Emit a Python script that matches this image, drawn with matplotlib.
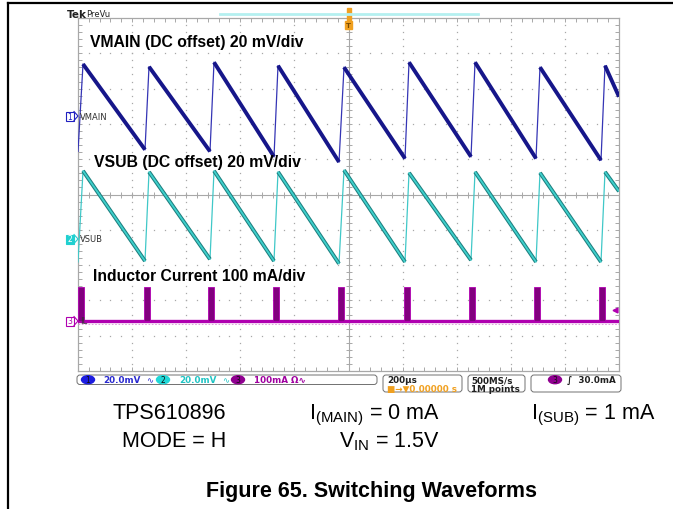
import numpy as np
import matplotlib
matplotlib.use("Agg")
import matplotlib.pyplot as plt
from matplotlib.patches import FancyBboxPatch, Ellipse, Rectangle

plt.rcParams["mathtext.fontset"] = "custom"
plt.rcParams["mathtext.rm"] = "Liberation Sans"
plt.rcParams["mathtext.it"] = "Liberation Sans:italic"

# --- data (time in us, 200 us/div) ---
peak_t = [18.5, 262.5, 502.8, 739.4, 983.4, 1223.7, 1467.7, 1707.9, 1948.2]
trough_t = [0.0, 247.7, 488.0, 724.6, 964.9, 1208.9, 1452.9, 1693.2, 1933.5]
end_t = 2000.0

# VMAIN, mV around channel 1 marker (20 mV/div)
vmain_peak = [29.5, 28.0, 30.5, 28.6, 27.7, 30.5, 30.5, 27.7, 28.6]
vmain_trough = [-20, -19, -20, -23, -26, -24, -23, -24, -25]
vmain_end = 11

# VSUB, mV around channel 2 marker (20 mV/div)
vsub_peak = [38.6, 38.0, 38.6, 38.0, 39.0, 37.5, 38.0, 37.5, 38.0]
vsub_trough = [-13, -12.5, -11.5, -12.5, -14, -13, -12, -13, -13]
vsub_end = 27

# inductor current, mA (100 mA/div)
il_spike_t = [0, 244, 481, 721, 961, 1205, 1445, 1686, 1926]
il_spike_w = 22
il_spike_top = 96
il_base = 0

# channel ground markers, in divisions from the bottom of the screen
ch_pos = {"VMAIN": 7.22, "VSUB": 3.74, "IL": 1.42}
ch_scale = {"VMAIN": 20.0, "VSUB": 20.0, "IL": 100.0}

fig = plt.figure(figsize=(6.73, 5.10), dpi=100)
fig.patch.set_facecolor("white")

# scope screen
ax = fig.add_axes([78 / 673, 1 - 372 / 510, 541 / 673, 353 / 510])
ax.set_xlim(0, 2000)
ax.set_ylim(0, 10)
grid_c = "#a8a8a8"
for s in ax.spines.values():
    s.set_color(grid_c)
    s.set_linewidth(0.9)
ax.set_xticks(np.arange(0, 2001, 40))
ax.set_yticks(np.arange(0, 10.01, 0.2))
ax.set_xticklabels([])
ax.set_yticklabels([])
ax.tick_params(direction="in", length=3, width=0.7, color=grid_c,
               top=True, right=True)

# dotted graticule
for k in range(1, 10):
    ys = np.arange(0.2, 10, 0.2)
    ax.plot(np.full(len(ys), k * 200), ys, ls="", marker="s", ms=0.9,
            color=grid_c, mew=0)
    xs = np.arange(40, 2000, 40)
    ax.plot(xs, np.full(len(xs), k), ls="", marker="s", ms=0.9,
            color=grid_c, mew=0)
# centre cross
ax.axvline(1000, color=grid_c, lw=0.8)
ax.axhline(5, color=grid_c, lw=0.8)
xs = np.arange(40, 2000, 40)
ax.plot(xs, np.full(len(xs), 5), ls="", marker="|", ms=5, mew=0.7, color=grid_c)
ys = np.arange(0.2, 10, 0.2)
ax.plot(np.full(len(ys), 1000), ys, ls="", marker="_", ms=5, mew=0.7, color=grid_c)


def draw_saw(name, peaks, troughs, end_v, c_thick, c_thin, inner=None):
    pos, sc = ch_pos[name], ch_scale[name]
    # rising edges: thin
    for i in range(len(peak_t)):
        ax.plot([trough_t[i], peak_t[i]],
                [pos + troughs[i] / sc, pos + peaks[i] / sc],
                color=c_thin, lw=0.9, zorder=4)
    # falling ramps: thick
    for i in range(len(peak_t)):
        if i + 1 < len(peak_t):
            t1, v1 = trough_t[i + 1], troughs[i + 1]
        else:
            t1, v1 = end_t, end_v
        ax.plot([peak_t[i], t1], [pos + peaks[i] / sc, pos + v1 / sc],
                color=c_thick, lw=2.8, solid_capstyle="butt", zorder=5)
        if inner:
            ax.plot([peak_t[i], t1], [pos + peaks[i] / sc, pos + v1 / sc],
                    color=inner, lw=1.3, solid_capstyle="butt", zorder=6)


draw_saw("VMAIN", vmain_peak, vmain_trough, vmain_end, "#16168a", "#3535b5")
draw_saw("VSUB", vsub_peak, vsub_trough, vsub_end, "#1d7f7f", "#40c8c8",
         inner="#3fd0cc")

# inductor current
pos, sc = ch_pos["IL"], ch_scale["IL"]
ax.plot([0, 2000], [pos + il_base / sc - 0.09] * 2, color="#d890d8", lw=0.6,
        ls=(0, (2, 2)), zorder=4)
ax.plot([0, 2000], [pos + il_base / sc] * 2, color="#b000b0", lw=2.4, zorder=5)
ax.bar(il_spike_t, [(il_spike_top - il_base) / sc] * len(il_spike_t),
       width=il_spike_w, bottom=pos + il_base / sc, align="edge",
       color="#82007f", edgecolor="#b000b0", lw=0.6, zorder=6)

# overlay in pixel coordinates for all the surrounding stuff
ov = fig.add_axes([0, 0, 1, 1], zorder=3)
ov.set_xlim(0, 673)
ov.set_ylim(510, 0)
ov.axis("off")
ov.patch.set_alpha(0)

# page frame
ov.plot([8, 673], [4, 4], color="black", lw=1.6)
ov.plot([8, 8], [4, 510], color="black", lw=1.6)

# header
ov.text(67, 15, "Tek", fontsize=7.5, fontweight="bold", family="DejaVu Sans",
        va="center", color="#202020")
ov.text(86, 14.5, "PreVu", fontsize=6, family="DejaVu Sans", va="center",
        color="#202020")
ov.plot([220, 478], [15, 15], color="#b4f0f0", lw=2)
ov.add_patch(Rectangle((346.5, 9), 4, 12, color="#f0a020"))
ov.add_patch(Rectangle((345, 22), 7, 8, color="#f0a020"))
ov.text(348.5, 26.2, "T", fontsize=5, color="#7a4a00", ha="center",
        va="center", fontweight="bold")

# on-screen labels
lab = dict(fontsize=11.3, fontweight="bold", family="Liberation Sans",
           color="black", va="center", zorder=10)
ov.text(90, 42, "VMAIN (DC offset) 20 mV/div", **lab)
ov.text(94, 163, "VSUB (DC offset) 20 mV/div", **lab)
ov.text(93, 277, "Inductor Current 100 mA/div", **lab)

# channel markers
def ch_marker(num, name, y, col, filled):
    ov.add_patch(Rectangle((66, y - 4.5), 8, 9, facecolor=col if filled else "white",
                           edgecolor=col, lw=0.8))
    ov.text(70, y, num, fontsize=5.5, ha="center", va="center",
            color="white" if filled else col, family="DejaVu Sans")
    ov.plot([74, 78, 74], [y - 4.5, y, y + 4.5], color=col, lw=0.8)
    ov.text(80, y, name, fontsize=6, va="center", color="#303030",
            family="DejaVu Sans")


ch_marker("1", "VMAIN", 117, "#2020c0", False)
ch_marker("2", "VSUB", 240, "#20d0d0", True)
ch_marker("3", "IL", 322, "#b000b0", False)
ov.plot([615], [311], marker="<", ms=3.5, color="#b000b0")

# status bar
def rbox(x0, y0, x1, y1):
    ov.add_patch(FancyBboxPatch((x0, y0), x1 - x0, y1 - y0,
                                boxstyle="round,pad=0,rounding_size=3",
                                facecolor="white", edgecolor="#707070", lw=0.7))


rbox(77, 376, 377, 385.5)
rbox(383, 376, 462, 393)
rbox(468, 376, 525, 393)
rbox(531, 376, 621, 393)

st = dict(fontsize=6.3, family="DejaVu Sans", fontweight="bold", va="center")
for cx, col, n in [(88, "#1c1ce0", "1"), (163, "#20d8d8", "2"), (238, "#900090", "3"),
                   (555, "#900090", "3")]:
    ov.add_patch(Ellipse((cx, 380.7), 13, 8, color=col))
    ov.text(cx, 380.9, n, fontsize=5.5, ha="center", va="center", color="#101010")
ov.text(103, 380.7, "20.0mV", color="#2a2ad0", **st)
ov.text(146, 380.7, "\u223f", color="#2a2ad0", fontsize=6, va="center")
ov.text(179, 380.7, "20.0mV", color="#20c4c4", **st)
ov.text(222, 380.7, "\u223f", color="#20c4c4", fontsize=6, va="center")
ov.text(254, 380.7, "100mA \u03a9\u223f", color="#a000a0", **st)
ov.text(387, 380.7, "200\u00b5s", color="#202020", **st)
ov.text(387, 389.3, "\u25a0\u2192\u25bc0.00000 s", color="#f0a020", **st)
ov.text(471, 380.7, "500MS/s", color="#202020", **st)
ov.text(471, 389.3, "1M points", color="#202020", **st)
ov.text(567, 380.7, "\u222b  30.0mA", color="#202020", **st)

# caption below the screen
cap = dict(fontsize=15.5, family="Liberation Sans", color="black", va="baseline")
ov.text(226, 419, "TPS610896", ha="right", **cap)
ov.text(226, 447, "MODE = H", ha="right", **cap)
ov.text(440, 419, r"I$_\mathrm{(MAIN)}$ = 0 mA", ha="right", **cap)
ov.text(440, 447, r"V$_\mathrm{IN}$ = 1.5V", ha="right", **cap)
ov.text(655, 419, r"I$_\mathrm{(SUB)}$ = 1 mA", ha="right", **cap)
ov.text(371, 497, "Figure 65. Switching Waveforms", ha="center", fontsize=15.5,
        fontweight="bold", family="Liberation Sans", va="baseline")

fig.savefig("out.png", dpi=100)
